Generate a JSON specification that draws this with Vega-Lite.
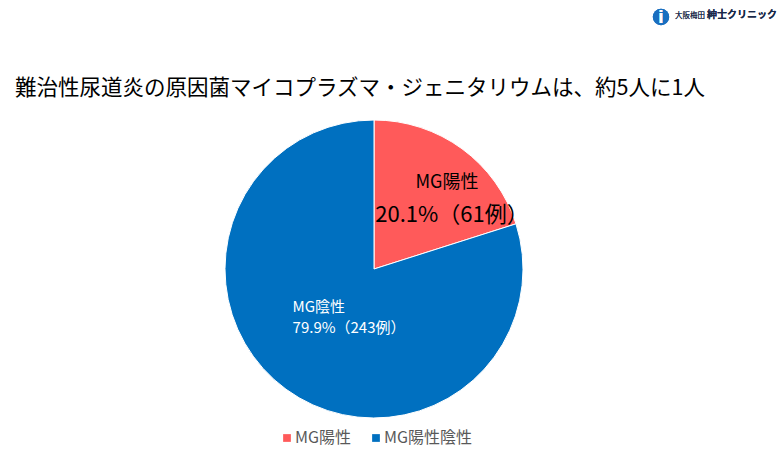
{
  "$schema": "https://vega.github.io/schema/vega-lite/v6.json",
  "width": 298,
  "height": 298,
  "padding": {"left": 225, "top": 120, "right": 257, "bottom": 36},
  "autosize": {"type": "none"},
  "background": "white",
  "view": {"stroke": null},
  "title": {
    "text": "難治性尿道炎の原因菌マイコプラズマ・ジェニタリウムは、約5人に1人",
    "anchor": "start",
    "frame": "group",
    "dx": -210,
    "offset": -91,
    "font": "Noto Sans CJK JP",
    "fontSize": 21.5,
    "fontWeight": "normal",
    "color": "#000000"
  },
  "data": {
    "values": [
      {"group": "MG陽性", "pct": 20.1, "cases": 61, "line1": "MG陽性", "line2": "20.1%（61例）"},
      {"group": "MG陽性陰性", "pct": 79.9, "cases": 243, "line1": "MG陰性", "line2": "79.9%（243例）"}
    ]
  },
  "encoding": {
    "theta": {"field": "pct", "type": "quantitative", "stack": true, "scale": {"domain": [0, 100]}},
    "order": {"field": "pct", "sort": "ascending"}
  },
  "layer": [
    {
      "mark": {"type": "arc", "stroke": "white", "strokeWidth": 1},
      "encoding": {
        "color": {
          "field": "group",
          "type": "nominal",
          "sort": null,
          "scale": {"domain": ["MG陽性", "MG陽性陰性"], "range": ["#ff5a5a", "#0070c0"]},
          "legend": {
            "title": null,
            "orient": "none",
            "legendX": 54,
            "legendY": 310,
            "direction": "horizontal",
            "symbolType": "square",
            "symbolSize": 60,
            "symbolStrokeWidth": 0,
            "labelOffset": 0,
            "columnPadding": 16,
            "labelFont": "Noto Sans CJK JP",
            "labelFontSize": 16,
            "labelColor": "#595959"
          }
        }
      }
    },
    {
      "mark": {
        "type": "text",
        "font": "Noto Sans CJK JP",
        "align": {"expr": "datum.pct < 50 ? 'center' : 'left'"},
        "radius": {"expr": "datum.pct < 50 ? 88 : 60"},
        "dx": {"expr": "datum.pct < 50 ? 21 : -46"},
        "dy": {"expr": "datum.pct < 50 ? -15 : -10"}
      },
      "encoding": {
        "text": {"field": "line1"},
        "size": {"condition": {"test": "datum.pct < 50", "value": 18}, "value": 15},
        "color": {"condition": {"test": "datum.pct < 50", "value": "#000000"}, "value": "#ffffff"}
      }
    },
    {
      "mark": {
        "type": "text",
        "font": "Noto Sans CJK JP",
        "align": {"expr": "datum.pct < 50 ? 'center' : 'left'"},
        "radius": {"expr": "datum.pct < 50 ? 88 : 60"},
        "dx": {"expr": "datum.pct < 50 ? 26 : -46"},
        "dy": {"expr": "datum.pct < 50 ? 17 : 11"}
      },
      "encoding": {
        "text": {"field": "line2"},
        "size": {"condition": {"test": "datum.pct < 50", "value": 22}, "value": 15},
        "color": {"condition": {"test": "datum.pct < 50", "value": "#000000"}, "value": "#ffffff"}
      }
    },
    {
      "mark": {"type": "point", "filled": true, "shape": "circle", "size": 270, "opacity": 1, "color": "#1a6fc0", "x": 436, "y": -103},
      "encoding": {"theta": null, "order": null}
    },
    {
      "mark": {"type": "text", "text": "i", "font": "Liberation Sans", "fontWeight": "bold", "fontSize": 19, "color": "#ffffff", "x": 436, "y": -103},
      "encoding": {"theta": null, "order": null}
    },
    {
      "mark": {"type": "text", "text": "大阪梅田", "font": "Noto Sans CJK JP", "fontSize": 7.5, "align": "left", "color": "#1a2a4a", "x": 450, "y": -104},
      "encoding": {"theta": null, "order": null}
    },
    {
      "mark": {"type": "text", "text": "紳士クリニック", "font": "Noto Sans CJK JP", "fontSize": 10, "fontWeight": "bold", "align": "left", "color": "#1a2a4a", "x": 482, "y": -105},
      "encoding": {"theta": null, "order": null}
    }
  ]
}
